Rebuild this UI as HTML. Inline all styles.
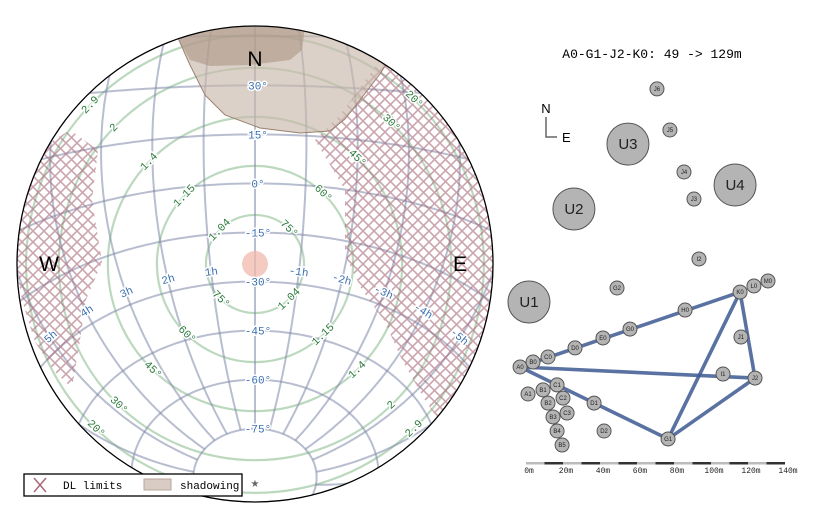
<!DOCTYPE html>
<html><head><meta charset="utf-8"><style>
html,body{margin:0;padding:0;background:#fff;overflow:hidden;width:819px;height:530px;}
svg{display:block;font-family:"Liberation Mono",monospace;}
</style></head><body>
<svg id="chart" width="819" height="530" viewBox="0 0 819 530" xmlns="http://www.w3.org/2000/svg">
<defs>
<clipPath id="sky"><circle cx="255" cy="264" r="238"/></clipPath>
<pattern id="hatch" width="11" height="11" patternUnits="userSpaceOnUse">
<path d="M0 0L11 11M11 0L0 11" stroke="#a86878" stroke-width="1.6" opacity="0.6"/>
</pattern>
</defs>
<g id="sky-plot">
<circle cx="255" cy="264" r="238" fill="#fff"/>
<g clip-path="url(#sky)">
<g id="grid"></g>
<polygon fill="url(#hatch)" points="385,55 420,75 460,120 485,180 495,260 488,330 465,385 440,422 425,400 402,360 385,322 362,290 345,255 345,190 315,140 340,115 380,60"/>
<polygon fill="url(#hatch)" points="20,190 38,150 70,130 98,150 92,200 102,262 86,300 80,340 72,388 55,372 35,342 22,300 15,260"/>
<polygon fill="#c9b8aa" fill-opacity="0.65" stroke="#9a8070" stroke-width="1" points="176,20 178,38 190,65 205,95 225,115 260,128 300,133 330,131 345,119 360,100 380,74 392,55 392,20"/>
<polygon fill="#a89080" fill-opacity="0.55" points="178,20 306,20 302,50 290,60 250,65 210,66 190,60 180,42"/>
<circle cx="255" cy="264" r="13" fill="#f0b8ac" opacity="0.75"/>
<g id="labels"></g>
</g>
<circle cx="255" cy="264" r="238" fill="none" stroke="#000" stroke-width="1.3"/>
<text x="255" y="66" text-anchor="middle" font-family="Liberation Sans,sans-serif" font-size="21">N</text>
<text x="49" y="271" text-anchor="middle" font-family="Liberation Sans,sans-serif" font-size="21">W</text>
<text x="460" y="271" text-anchor="middle" font-family="Liberation Sans,sans-serif" font-size="21">E</text>
<text x="255" y="487" text-anchor="middle" font-size="14" fill="#666">★</text>
<g>
<rect x="24" y="474" width="218" height="22" fill="#fff" stroke="#000" stroke-width="1.3"/>
<path d="M34 478L46 492M46 478L34 492" stroke="#a86878" stroke-width="1.5"/>
<text x="63" y="489" font-size="11">DL limits</text>
<rect x="144" y="479" width="27" height="11" fill="#d8ccc4" stroke="#b8a898"/>
<text x="180" y="489" font-size="11">shadowing</text>
</g>
</g>
<g id="array">
<text x="652" y="58" text-anchor="middle" font-size="13">A0-G1-J2-K0: 49 -&gt; 129m</text>
<text x="546" y="113" text-anchor="middle" font-family="Liberation Sans,sans-serif" font-size="13">N</text>
<path d="M546 117V137H557" fill="none" stroke="#666" stroke-width="1.5"/>
<text x="562" y="142" font-family="Liberation Sans,sans-serif" font-size="13">E</text>
<g id="baselines"></g>
<g id="stations"></g>
<g id="scale"></g>
</g>
<script>
const lat=-24.63*Math.PI/180;
const CX=255,CY=264,K=3.27;
const decCircles=[-75,-60,-45,-30,-15,0,15,30,45];
const hourAngles=[-11,-10,-9,-8,-7,-6,-5,-4,-3,-2,-1,0,1,2,3,4,5,6,7,8,9,10,11,12];
const altCircles=[75,60,45,30,20];
const airmassLabels=["1.04","1.15","1.4","2","2.9"];
const haLabels=["5h","4h","3h","2h","1h","-1h","-2h","-3h","-4h","-5h"];
const haLabelValues=[5,4,3,2,1,-1,-2,-3,-4,-5];
const NS="http://www.w3.org/2000/svg";
function proj(dec,ha){
 const d=dec*Math.PI/180,h=ha*15*Math.PI/180;
 const sa=Math.sin(lat)*Math.sin(d)+Math.cos(lat)*Math.cos(d)*Math.cos(h);
 const alt=Math.asin(Math.max(-1,Math.min(1,sa)));
 const e=-Math.cos(d)*Math.sin(h);
 const n=Math.cos(lat)*Math.sin(d)-Math.sin(lat)*Math.cos(d)*Math.cos(h);
 const az=Math.atan2(e,n);
 const r=K*(90-alt*180/Math.PI);
 return {x:CX+r*Math.sin(az),y:CY-r*Math.cos(az),alt:alt*180/Math.PI};
}
function mk(tag,parent,attrs){const el=document.createElementNS(NS,tag);for(const k in attrs)el.setAttribute(k,attrs[k]);parent.appendChild(el);return el;}
const grid=document.getElementById('grid'),labels=document.getElementById('labels');
altCircles.forEach(a=>{
 const el=mk('circle',grid,{cx:CX,cy:CY,r:K*(90-a),fill:'none',stroke:'#8fbf95','stroke-width':2.2,opacity:0.6});
 
 
});
decCircles.forEach(dec=>{
 let d='',pen=false;
 for(let h=-12;h<=12.001;h+=0.1){const p=proj(dec,h);if(p.alt>-15){d+=(pen?'L':'M')+p.x.toFixed(1)+' '+p.y.toFixed(1);pen=true;}else pen=false;}
 const el=mk('path',grid,{d:d,fill:'none',stroke:'#7d88a8','stroke-width':2,opacity:0.55});
 
 
});
hourAngles.forEach(ha=>{
 let d='',pen=false;
 for(let dec=-75;dec<=90;dec+=1){const p=proj(dec,ha);if(p.alt>-15){d+=(pen?'L':'M')+p.x.toFixed(1)+' '+p.y.toFixed(1);pen=true;}else pen=false;}
 const el=mk('path',grid,{d:d,fill:'none',stroke:'#7d88a8','stroke-width':2,opacity:0.55});
 
 
});
function txt(x,y,s,color,rot){
 const t=mk('text',labels,{x:x,y:y,'text-anchor':'middle','dominant-baseline':'middle','font-size':11,fill:color,stroke:'#fff','stroke-width':3,'paint-order':'stroke',transform:rot?`rotate(${rot} ${x} ${y})`:''});
 t.textContent=s;return t;
}
decCircles.forEach(dec=>{
 if(dec>30)return;
 const p=proj(dec,0);
 const t=txt(p.x+3,p.y+1,dec+'°','#3a6fb0',0);
 
 
});
haLabelValues.forEach((ha,i)=>{
 const p=proj(-27,ha);
 const t=txt(p.x,p.y-2,haLabels[i],'#3a6fb0',ha*-8);
 
 
});
altCircles.forEach((a,i)=>{
 const r=K*(90-a);
 [[44,a+'°',44],[-46,airmassLabels[i],-46],[224,a+'°',44],[136,airmassLabels[i],-44]].forEach(q=>{
  const az=q[0]*Math.PI/180;const x=CX+r*Math.sin(az),y=CY-r*Math.cos(az);
  const t=txt(x,y,q[1],'#2a7a3a',q[2]);
  
  
 });
});
// telescope array
const stationNames=["U1","U2","U3","U4","A0","B0","C0","D0","E0","G0","H0","K0","L0","M0","J1","I1","J2","G1","G2","D1","D2","C1","A1","B1","B2","C2","B3","C3","B4","B5","J6","J5","J4","J3","I2"];
const stationEastM=[1.6,25.9,55.1,113,-3.2,3.8,11.9,26.5,41.6,56.2,86,115.7,123.2,130.8,116.2,106.5,123.8,76.8,49.2,36.8,42.2,16.8,1.1,9.2,11.9,20,14.6,22.2,16.8,19.5,70.8,77.8,85.4,90.8,93.5];
const stationNorthM=[89.7,140,175.1,153,54.6,57.3,60,64.9,70.3,75.1,85.4,95.1,98.4,101.1,70.8,50.8,48.6,15.7,97.3,35.1,20,44.9,40,42.2,35.1,37.8,27.6,29.7,20,12.4,204.9,182.7,160,145.4,113];
const bigStations=["U1","U2","U3","U4"];
const baselineA=["A0","A0","A0","G1","G1","J2"];
const baselineB=["K0","G1","J2","J2","K0","K0"];
const X0=526,PXM=1.85,Y0=468;
function sx(m){return X0+m*PXM;}
function sy(m){return Y0-m*PXM;}
function stationPos(name){const i=stationNames.indexOf(name);return {x:sx(stationEastM[i]),y:sy(stationNorthM[i])};}
const bl=document.getElementById('baselines');
baselineA.forEach((a,i)=>{
 const p=stationPos(a),q=stationPos(baselineB[i]);
 const el=mk('line',bl,{x1:p.x,y1:p.y,x2:q.x,y2:q.y,stroke:'#3d5a92','stroke-width':3.6,opacity:0.85});
 
 
});
const st=document.getElementById('stations');
stationNames.forEach((n,i)=>{
 const big=bigStations.includes(n);
 const x=sx(stationEastM[i]),y=sy(stationNorthM[i]);
 const g=mk('g',st,{});
 
 
 mk('circle',g,{cx:x,cy:y,r:big?21:7,fill:'#b4b4b4',stroke:'#555','stroke-width':1});
 const t=mk('text',g,{x:x,y:y+(big?5:2),'text-anchor':'middle','font-family':'Liberation Sans,sans-serif','font-size':big?15:6,fill:'#222'});
 t.textContent=n;
});
const scaleTicks=[0,20,40,60,80,100,120,140];
const sc=document.getElementById('scale');
for(let m=0;m<140;m+=10){
 const el=mk('rect',sc,{x:sx(m),y:462,width:10*PXM,height:2.5,fill:(m/10)%2?'#333':'#bbb'});
 
 
}
scaleTicks.forEach(m=>{
 const t=mk('text',sc,{x:sx(m)+3,y:473,'text-anchor':'middle','font-size':8,fill:'#222'});
 t.textContent=m+'m';
 
 
});
</script>
</svg>
</body></html>
